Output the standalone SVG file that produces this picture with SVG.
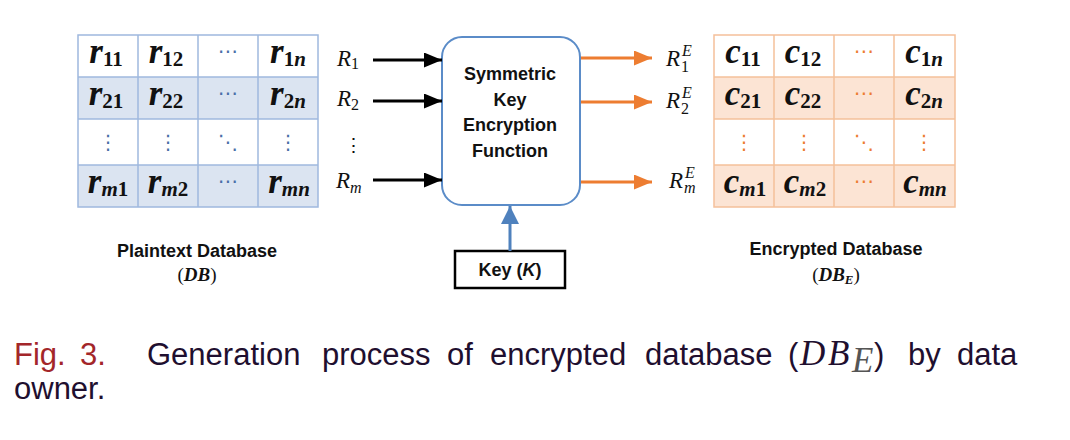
<svg xmlns="http://www.w3.org/2000/svg" width="1070" height="440" viewBox="0 0 1070 440">
<defs>
<style>
.bcell{stroke:#9fb8de;stroke-width:1.5}
.ocell{stroke:#f5c09a;stroke-width:1.5}
.bfill{fill:#dbe4f1}
.ofill{fill:#fce4d4}
.wfill{fill:#ffffff}
.cell{font-family:"Liberation Serif",serif;font-weight:bold;font-style:italic;font-size:35px;fill:#111;text-anchor:middle}
.sub{font-family:"Liberation Serif",serif;font-size:21px;font-weight:bold}
.subi{font-style:italic}
.subn{font-style:normal}
.dotb{font-family:"DejaVu Sans",sans-serif;font-size:20px;fill:#4a6fa8;text-anchor:middle}
.doto{font-family:"DejaVu Sans",sans-serif;font-size:20px;fill:#ed7d31;text-anchor:middle}
.rl{font-family:"Liberation Serif",serif;font-style:italic;font-size:23px;fill:#111}
.rs{font-size:16px;font-style:normal}
.rsi{font-size:16px;font-style:italic}
.lbl{font-family:"Liberation Sans",Arial,sans-serif;font-weight:bold;font-size:18px;fill:#111;text-anchor:middle}
.math{font-family:"Liberation Serif",serif;font-weight:bold;font-size:19px;fill:#111;text-anchor:middle}
.cap{font-family:"Liberation Sans",Arial,sans-serif;font-size:31px;fill:#1f0f2f}
.capm{font-family:"Liberation Serif",serif;font-style:italic;font-size:35px;fill:#1f0f2f}
.blk{stroke:#000;stroke-width:3;fill:none}
.org{stroke:#ed7d31;stroke-width:3;fill:none}
</style>
<marker id="ab" markerWidth="6" markerHeight="5" refX="6" refY="2.5" orient="auto" markerUnits="strokeWidth"><path d="M0,0 L6,2.5 L0,5 z" fill="#000"/></marker>
<marker id="ao" markerWidth="6" markerHeight="5" refX="6" refY="2.5" orient="auto" markerUnits="strokeWidth"><path d="M0,0 L6,2.5 L0,5 z" fill="#ed7d31"/></marker>
<marker id="au" markerWidth="6" markerHeight="6" refX="6" refY="3" orient="auto" markerUnits="strokeWidth"><path d="M0,0 L6,3 L0,6 z" fill="#4f81bd"/></marker>
</defs>

<g id="plaintext-table">
<rect class="wfill" x="78" y="35" width="240" height="42"/>
<rect class="bfill" x="78" y="77" width="240" height="42"/>
<rect class="wfill" x="78" y="119" width="240" height="46"/>
<rect class="bfill" x="78" y="165" width="240" height="42"/>
<g class="bcell" fill="none">
<rect x="78" y="35" width="240" height="172"/>
<line x1="138" y1="35" x2="138" y2="207"/><line x1="198" y1="35" x2="198" y2="207"/><line x1="258" y1="35" x2="258" y2="207"/>
<line x1="78" y1="77" x2="318" y2="77"/><line x1="78" y1="119" x2="318" y2="119"/><line x1="78" y1="165" x2="318" y2="165"/>
</g>
<text class="cell" x="106" y="63">r<tspan class="sub subn" dy="3">11</tspan></text>
<text class="cell" x="166" y="63">r<tspan class="sub subn" dy="3">12</tspan></text>
<text class="dotb" x="228" y="58">⋯</text>
<text class="cell" x="288" y="63">r<tspan class="sub subn" dy="3">1</tspan><tspan class="sub subi">n</tspan></text>
<text class="cell" x="106" y="105">r<tspan class="sub subn" dy="3">21</tspan></text>
<text class="cell" x="166" y="105">r<tspan class="sub subn" dy="3">22</tspan></text>
<text class="dotb" x="228" y="100">⋯</text>
<text class="cell" x="288" y="105">r<tspan class="sub subn" dy="3">2</tspan><tspan class="sub subi">n</tspan></text>
<text class="dotb" x="108" y="149">⋮</text>
<text class="dotb" x="168" y="149">⋮</text>
<text class="dotb" x="228" y="149">⋱</text>
<text class="dotb" x="288" y="149">⋮</text>
<text class="cell" x="108" y="193">r<tspan class="sub subi" dy="3">m</tspan><tspan class="sub subn">1</tspan></text>
<text class="cell" x="168" y="193">r<tspan class="sub subi" dy="3">m</tspan><tspan class="sub subn">2</tspan></text>
<text class="dotb" x="228" y="188">⋯</text>
<text class="cell" x="289" y="193">r<tspan class="sub subi" dy="3">mn</tspan></text>
</g>

<g id="plaintext-label">
<text class="lbl" x="197" y="257" font-size="17">Plaintext Database</text>
<text class="math" x="197" y="281"><tspan font-weight="normal" style="font-style:normal">(</tspan><tspan font-style="italic">DB</tspan><tspan font-weight="normal">)</tspan></text>
</g>

<g id="input-labels">
<text class="rl" x="337" y="66">R<tspan class="rs" dy="3">1</tspan></text>
<text class="rl" x="337" y="106">R<tspan class="rs" dy="4">2</tspan></text>
<text class="rl" x="353" y="152" style="font-style:normal;font-size:19px" text-anchor="middle">⋮</text>
<text class="rl" x="336" y="188">R<tspan class="rsi" dy="5">m</tspan></text>
</g>

<g id="encryption-function">
<rect x="442" y="37" width="138" height="168" rx="20" ry="20" fill="#fff" stroke="#5b8cc8" stroke-width="2"/>
<text class="lbl" x="510" y="80">Symmetric</text>
<text class="lbl" x="510" y="105.5">Key</text>
<text class="lbl" x="510" y="131">Encryption</text>
<text class="lbl" x="510" y="156.5">Function</text>
</g>

<g id="key">
<rect x="455" y="251" width="110" height="37" fill="#fff" stroke="#000" stroke-width="2.5"/>
<text class="lbl" x="510" y="276">Key (<tspan font-style="italic">K</tspan>)</text>
</g>

<g id="connectors">
<line class="blk" x1="373" y1="60" x2="442" y2="60" marker-end="url(#ab)"/>
<line class="blk" x1="373" y1="101" x2="442" y2="101" marker-end="url(#ab)"/>
<line class="blk" x1="373" y1="180" x2="442" y2="180" marker-end="url(#ab)"/>
<line class="org" x1="581" y1="58" x2="652" y2="58" marker-end="url(#ao)"/>
<line class="org" x1="581" y1="102" x2="652" y2="102" marker-end="url(#ao)"/>
<line class="org" x1="581" y1="182" x2="652" y2="182" marker-end="url(#ao)"/>
<line x1="510" y1="251" x2="510" y2="206" stroke="#4f81bd" stroke-width="3" marker-end="url(#au)"/>
</g>

<g id="output-labels">
<text class="rl" x="666" y="66">R<tspan class="rsi" x="682" y="56">E</tspan><tspan class="rs" x="681" y="72">1</tspan></text>
<text class="rl" x="666" y="108">R<tspan class="rsi" x="682" y="98">E</tspan><tspan class="rs" x="681" y="114">2</tspan></text>
<text class="rl" x="669" y="188">R<tspan class="rsi" x="685" y="178">E</tspan><tspan class="rsi" x="684" y="193">m</tspan></text>
</g>

<g id="encrypted-table">
<rect class="wfill" x="714" y="35" width="241" height="42"/>
<rect class="ofill" x="714" y="77" width="241" height="42"/>
<rect class="wfill" x="714" y="119" width="241" height="46"/>
<rect class="ofill" x="714" y="165" width="241" height="42"/>
<g class="ocell" fill="none">
<rect x="714" y="35" width="241" height="172"/>
<line x1="774" y1="35" x2="774" y2="207"/><line x1="834" y1="35" x2="834" y2="207"/><line x1="894" y1="35" x2="894" y2="207"/>
<line x1="714" y1="77" x2="955" y2="77"/><line x1="714" y1="119" x2="955" y2="119"/><line x1="714" y1="165" x2="955" y2="165"/>
</g>
<text class="cell" x="743" y="63">c<tspan class="sub subn" dy="3">11</tspan></text>
<text class="cell" x="803" y="63">c<tspan class="sub subn" dy="3">12</tspan></text>
<text class="doto" x="864" y="58">⋯</text>
<text class="cell" x="924" y="63">c<tspan class="sub subn" dy="3">1</tspan><tspan class="sub subi">n</tspan></text>
<text class="cell" x="743" y="105">c<tspan class="sub subn" dy="3">21</tspan></text>
<text class="cell" x="803" y="105">c<tspan class="sub subn" dy="3">22</tspan></text>
<text class="doto" x="864" y="100">⋯</text>
<text class="cell" x="924" y="105">c<tspan class="sub subn" dy="3">2</tspan><tspan class="sub subi">n</tspan></text>
<text class="doto" x="744" y="149">⋮</text>
<text class="doto" x="804" y="149">⋮</text>
<text class="doto" x="864" y="149">⋱</text>
<text class="doto" x="924" y="149">⋮</text>
<text class="cell" x="745" y="193">c<tspan class="sub subi" dy="3">m</tspan><tspan class="sub subn">1</tspan></text>
<text class="cell" x="805" y="193">c<tspan class="sub subi" dy="3">m</tspan><tspan class="sub subn">2</tspan></text>
<text class="doto" x="864" y="188">⋯</text>
<text class="cell" x="925" y="193">c<tspan class="sub subi" dy="3">mn</tspan></text>
</g>

<g id="encrypted-label">
<text class="lbl" x="836" y="255" font-size="18.5">Encrypted Database</text>
<text class="math" x="836" y="281"><tspan font-weight="normal">(</tspan><tspan font-style="italic">DB</tspan><tspan font-style="italic" font-size="13" dy="3">E</tspan><tspan font-weight="normal" dy="-3">)</tspan></text>
</g>

<g id="caption">
<text class="cap" x="14" y="365" style="fill:#a3262a">Fig.</text>
<text class="cap" x="80" y="365" style="fill:#a3262a">3.</text>
<text class="cap" x="147" y="365">Generation</text>
<text class="cap" x="322" y="365">process</text>
<text class="cap" x="447" y="365">of</text>
<text class="cap" x="490" y="365">encrypted</text>
<text class="cap" x="645" y="365">database</text>
<text class="cap" x="788" y="365">(</text>
<text class="capm" x="800" y="365">D</text>
<text class="capm" x="828" y="365">B</text>
<text class="capm" x="852" y="372" font-size="24" style="fill:#555">E</text>
<text class="cap" x="874" y="365">)</text>
<text class="cap" x="908" y="365">by</text>
<text class="cap" x="957" y="365">data</text>
<text class="cap" x="14" y="399">owner.</text>
</g>
</svg>
